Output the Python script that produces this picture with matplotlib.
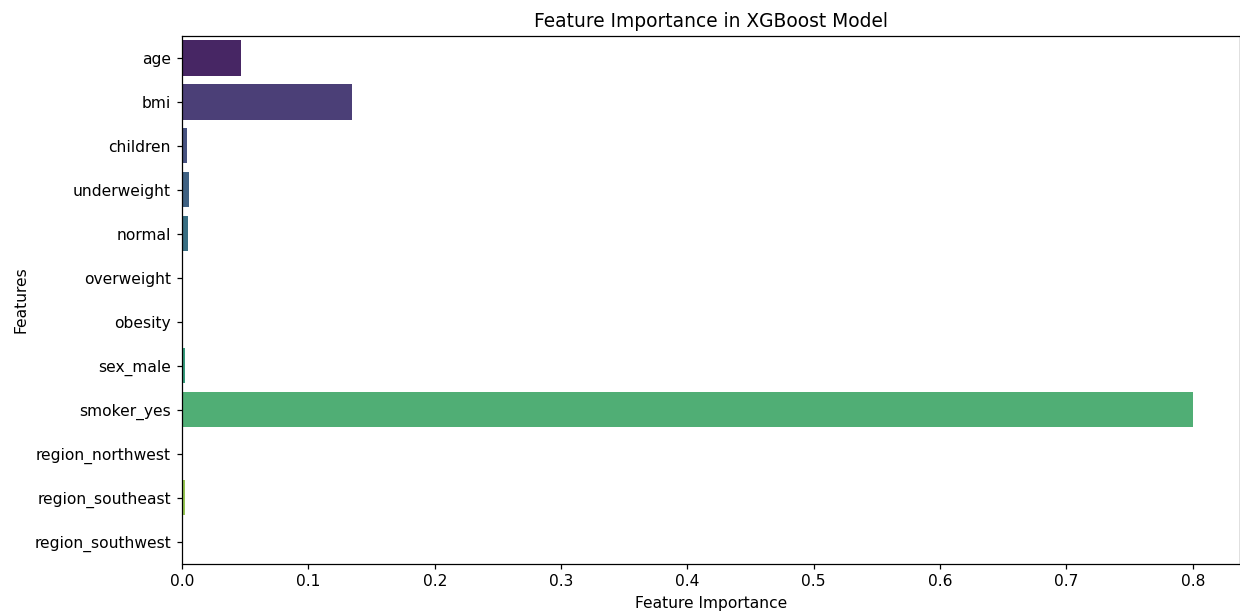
import matplotlib
matplotlib.use("Agg")
import matplotlib.pyplot as plt
import seaborn as sns
import pandas as pd

features = ["age", "bmi", "children", "underweight", "normal", "overweight",
            "obesity", "sex_male", "smoker_yes", "region_northwest",
            "region_southeast", "region_southwest"]
importance = [0.047, 0.1348, 0.0037, 0.0055, 0.0045, 0.0, 0.0, 0.0026,
              0.8003, 0.0, 0.002, 0.0]

df = pd.DataFrame({"Feature": features, "Importance": importance})

DPI = 112
W, H = 1240, 613
fig = plt.figure(figsize=(W / DPI, H / DPI), dpi=DPI)
left, right, top, bottom = 182, 1239.5, 36, 563.5
ax = fig.add_axes([left / W, 1 - bottom / H, (right - left) / W, (bottom - top) / H])
sns.barplot(data=df, x="Importance", y="Feature", hue="Feature",
            palette="viridis", legend=False, ax=ax)
ax.set_xlim(0, 0.837)
ax.set_title("Feature Importance in XGBoost Model")
ax.set_xlabel("Feature Importance")
ax.set_ylabel("Features")
fig.savefig("out.png", dpi=DPI)
